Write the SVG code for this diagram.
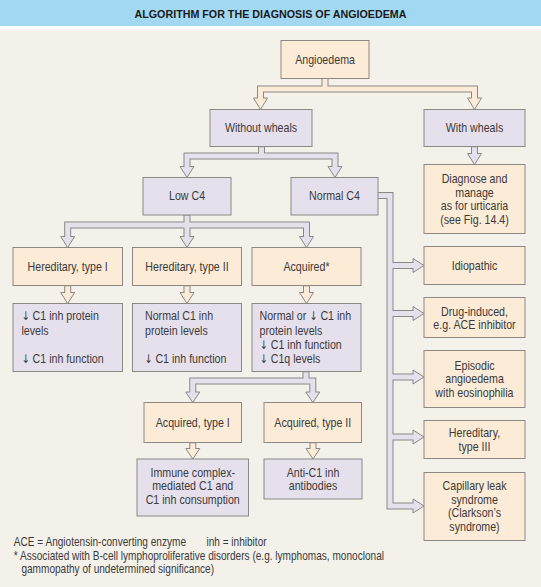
<svg xmlns="http://www.w3.org/2000/svg" width="541" height="587" viewBox="0 0 541 587">
<style>
.bg{fill:#F4F1EB}
.pe{fill:#FCEBD6;stroke:#8c8884;stroke-width:1}
.la{fill:#E6E0EC;stroke:#8c8884;stroke-width:1}
.t{font-family:"Liberation Sans",Arial,sans-serif;font-size:13px;fill:#3a3a3a;transform-box:fill-box;transform:scaleX(.82)}
.c{text-anchor:middle;transform-origin:50% 50%}
.l{transform-origin:0% 50%}
.ar{font-family:"DejaVu Sans",sans-serif;font-size:12px}
.fn{font-family:"Liberation Sans",Arial,sans-serif;font-size:12px;fill:#3a3a3a;transform-box:fill-box;transform-origin:0% 50%;transform:scaleX(.84)}
.ti{font-family:"Liberation Sans",Arial,sans-serif;font-size:10.5px;font-weight:bold;fill:#1a1a1a}
.bo{fill:none;stroke:#8c8884;stroke-width:7;stroke-linejoin:miter}
.bip{fill:none;stroke:#FCEBD6;stroke-width:5;stroke-linejoin:miter}
.bil{fill:none;stroke:#E6E0EC;stroke-width:5;stroke-linejoin:miter}
.ahp{fill:#FCEBD6;stroke:#8c8884;stroke-width:1;stroke-linejoin:miter}
.ahl{fill:#E6E0EC;stroke:#8c8884;stroke-width:1;stroke-linejoin:miter}
</style>
<rect x="0" y="0" width="541" height="587" fill="#FFFFFF"/>
<rect x="0" y="0" width="541" height="26" fill="#A3D8F2"/>
<rect class="bg" x="0" y="29.5" width="541" height="557.5"/>
<text class="ti" x="134.5" y="17.5" textLength="272" lengthAdjust="spacingAndGlyphs">ALGORITHM FOR THE DIAGNOSIS OF ANGIOEDEMA</text>

<g id="connectors">
  <path class="bo" d="M325,78.5 V89 M260.5,98 V89 H474.5 V98"/>
  <path class="bo" d="M261.5,146.7 V156 M187,166.5 V156 H335 V166.5"/>
  <path class="bo" d="M474.5,146.7 V153.5"/>
  <path class="bo" d="M187,215 V236.5 M67.7,236.5 V225 H306.5 V236.5"/>
  <path class="bo" d="M378,195.5 H390 V506 H413 M390,265.5 H413 M390,313.5 H413 M390,377 H413 M390,437 H413"/>
  <path class="bo" d="M67.7,285.7 V292.5 M187,285.7 V292.5 M306.5,285.7 V292.5"/>
  <path class="bo" d="M306,371.7 V381 M192.75,392 V381 H312.8 V392"/>
  <path class="bo" d="M192.75,442.7 V448.5 M313,442.7 V448.5"/>
  <polygon class="ahp" points="253.5,98 267.5,98 260.5,109.5"/>
  <polygon class="ahp" points="467.5,98 481.5,98 474.5,109.5"/>
  <polygon class="ahl" points="180,166.5 194,166.5 187,177.5"/>
  <polygon class="ahl" points="328,166.5 342,166.5 335,177.5"/>
  <polygon class="ahl" points="467.5,153.5 481.5,153.5 474.5,164.5"/>
  <polygon class="ahl" points="60.7,236.5 74.7,236.5 67.7,247.5"/>
  <polygon class="ahl" points="180,236.5 194,236.5 187,247.5"/>
  <polygon class="ahl" points="299.5,236.5 313.5,236.5 306.5,247.5"/>
  <polygon class="ahl" points="413,258.5 413,272.5 424,265.5"/>
  <polygon class="ahl" points="413,306.5 413,320.5 424,313.5"/>
  <polygon class="ahl" points="413,370 413,384 424,377"/>
  <polygon class="ahl" points="413,430 413,444 424,437"/>
  <polygon class="ahl" points="413,499 413,513 424,506"/>
  <polygon class="ahp" points="60.7,292.5 74.7,292.5 67.7,303.5"/>
  <polygon class="ahp" points="180,292.5 194,292.5 187,303.5"/>
  <polygon class="ahp" points="299.5,292.5 313.5,292.5 306.5,303.5"/>
  <polygon class="ahl" points="185.75,392 199.75,392 192.75,402.5"/>
  <polygon class="ahl" points="305.8,392 319.8,392 312.8,402.5"/>
  <polygon class="ahp" points="185.75,448.5 199.75,448.5 192.75,459"/>
  <polygon class="ahp" points="306,448.5 320,448.5 313,459"/>
  <path class="bip" d="M325,79 V89 M260.5,99 V89 H474.5 V99"/>
  <path class="bil" d="M261.5,147.2 V156 M187,167.5 V156 H335 V167.5"/>
  <path class="bil" d="M474.5,147.2 V154.5"/>
  <path class="bil" d="M187,215.5 V237.5 M67.7,237.5 V225 H306.5 V237.5"/>
  <path class="bil" d="M377.5,195.5 H390 V506 H414 M390,265.5 H414 M390,313.5 H414 M390,377 H414 M390,437 H414"/>
  <path class="bip" d="M67.7,286.2 V293.5 M187,286.2 V293.5 M306.5,286.2 V293.5"/>
  <path class="bil" d="M306,372.2 V381 M192.75,393 V381 H312.8 V393"/>
  <path class="bip" d="M192.75,443.2 V449.5 M313,443.2 V449.5"/>
</g>

<g id="angioedema"><rect class="pe" x="281" y="40.5" width="88" height="38"/><text class="t c" x="325" y="64">Angioedema</text></g>
<g id="without-wheals"><rect class="la" x="210" y="109.5" width="102" height="37"/><text class="t c" x="261" y="132.5">Without wheals</text></g>
<g id="with-wheals"><rect class="la" x="424" y="109.5" width="101" height="37"/><text class="t c" x="474.5" y="132.5">With wheals</text></g>
<g id="low-c4"><rect class="la" x="143" y="177.5" width="88" height="37.5"/><text class="t c" x="187" y="200.5">Low C4</text></g>
<g id="normal-c4"><rect class="la" x="291" y="177.5" width="87" height="37.5"/><text class="t c" x="334.5" y="200.5">Normal C4</text></g>
<g id="diagnose"><rect class="pe" x="424" y="164.5" width="101" height="69"/>
  <text class="t c" x="474.5" y="183.5">Diagnose and</text>
  <text class="t c" x="474.5" y="197">manage</text>
  <text class="t c" x="474.5" y="210.5">as for urticaria</text>
  <text class="t c" x="474.5" y="224">(see Fig. 14.4)</text></g>
<g id="hereditary-1"><rect class="pe" x="13" y="247.5" width="109.5" height="38"/><text class="t c" x="67.7" y="271">Hereditary, type I</text></g>
<g id="hereditary-2"><rect class="pe" x="132.5" y="247.5" width="109" height="38"/><text class="t c" x="187" y="271">Hereditary, type II</text></g>
<g id="acquired"><rect class="pe" x="252" y="247.5" width="109" height="38"/><text class="t c" x="306.5" y="271">Acquired*</text></g>
<g id="idiopathic"><rect class="pe" x="424" y="246.5" width="101" height="38"/><text class="t c" x="474.5" y="270">Idiopathic</text></g>
<g id="lab-1"><rect class="la" x="13" y="303.5" width="109.5" height="68"/>
  <text class="t l" x="21.4" y="320.5"><tspan class="ar">↓</tspan> C1 inh protein</text>
  <text class="t l" x="21.4" y="334.7">levels</text>
  <text class="t l" x="21.4" y="362.7"><tspan class="ar">↓</tspan> C1 inh function</text></g>
<g id="lab-2"><rect class="la" x="132.5" y="303.5" width="109" height="68"/>
  <text class="t l" x="145" y="320.5">Normal C1 inh</text>
  <text class="t l" x="145" y="334.7">protein levels</text>
  <text class="t l" x="144.2" y="362.7"><tspan class="ar">↓</tspan> C1 inh function</text></g>
<g id="lab-3"><rect class="la" x="252" y="303.5" width="109" height="68"/>
  <text class="t l" x="259.5" y="320.5">Normal or <tspan class="ar">↓</tspan> C1 inh</text>
  <text class="t l" x="259.5" y="334.7">protein levels</text>
  <text class="t l" x="259.5" y="348.7"><tspan class="ar">↓</tspan> C1 inh function</text>
  <text class="t l" x="259.5" y="362.7"><tspan class="ar">↓</tspan> C1q levels</text></g>
<g id="drug-induced"><rect class="pe" x="424" y="297.5" width="101" height="40"/>
  <text class="t c" x="474.5" y="316">Drug-induced,</text>
  <text class="t c" x="474.5" y="329.5">e.g. ACE inhibitor</text></g>
<g id="episodic"><rect class="pe" x="424" y="350.5" width="101" height="57"/>
  <text class="t c" x="474.5" y="370">Episodic</text>
  <text class="t c" x="474.5" y="383.5">angioedema</text>
  <text class="t c" x="474.5" y="397">with eosinophilia</text></g>
<g id="hereditary-3"><rect class="pe" x="424" y="420.5" width="101" height="38"/>
  <text class="t c" x="474.5" y="437">Hereditary,</text>
  <text class="t c" x="474.5" y="451">type III</text></g>
<g id="capillary-leak"><rect class="pe" x="424" y="472.5" width="101" height="68"/>
  <text class="t c" x="474.5" y="490">Capillary leak</text>
  <text class="t c" x="474.5" y="504">syndrome</text>
  <text class="t c" x="474.5" y="517.5">(Clarkson’s</text>
  <text class="t c" x="474.5" y="531.5">syndrome)</text></g>
<g id="acquired-1"><rect class="pe" x="144" y="402.5" width="97.5" height="40"/><text class="t c" x="192.75" y="427">Acquired, type I</text></g>
<g id="acquired-2"><rect class="pe" x="264" y="402.5" width="97.5" height="40"/><text class="t c" x="312.8" y="427">Acquired, type II</text></g>
<g id="immune-complex"><rect class="la" x="137" y="459" width="111.5" height="57"/>
  <text class="t c" x="192.75" y="477">Immune complex-</text>
  <text class="t c" x="192.75" y="490.5">mediated C1 and</text>
  <text class="t c" x="192.75" y="504.5">C1 inh consumption</text></g>
<g id="anti-c1"><rect class="la" x="264" y="459" width="98" height="40"/>
  <text class="t c" x="313" y="477">Anti-C1 inh</text>
  <text class="t c" x="313" y="490.5">antibodies</text></g>

<g id="footnotes">
  <text class="fn" x="13.8" y="546">ACE = Angiotensin-converting enzyme</text>
  <text class="fn" x="206.4" y="546">inh = inhibitor</text>
  <text class="fn" x="13.8" y="560.5">* Associated with B-cell lymphoproliferative disorders (e.g. lymphomas, monoclonal</text>
  <text class="fn" x="21.4" y="573">gammopathy of undetermined significance)</text>
</g>
</svg>
